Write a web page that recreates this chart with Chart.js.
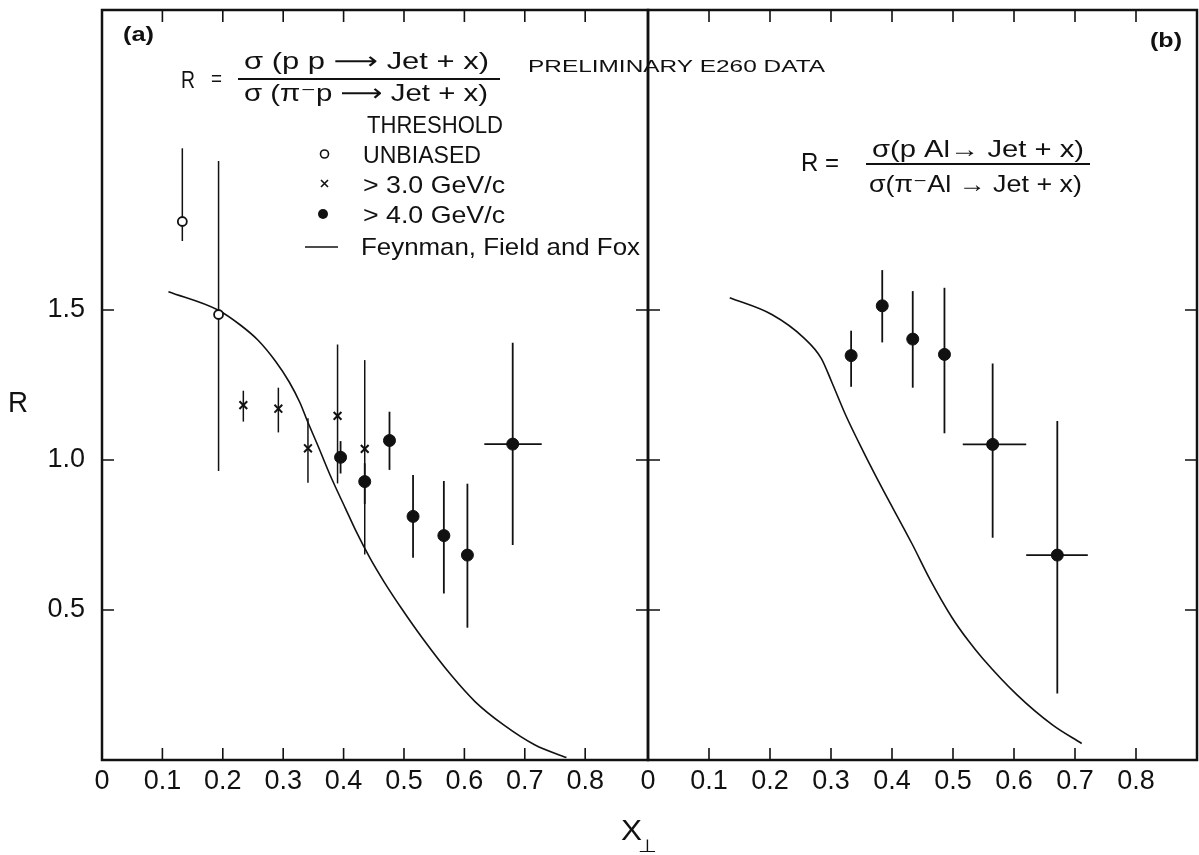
<!DOCTYPE html>
<html>
<head>
<meta charset="utf-8">
<script src="https://cdn.jsdelivr.net/npm/chart.js@4.4.1/dist/chart.umd.min.js"></script>
<style>
  html, body { margin: 0; padding: 0; background: #fff; }
  #wrap { position: relative; width: 1199px; height: 855px; overflow: hidden; }
  canvas { position: absolute; top: 0; }
  #chartA { left: 0; }
  #chartB { left: 600px; }
</style>
</head>
<body>
<div id="wrap">
  <canvas id="chartA" width="1199" height="855"></canvas>
  <canvas id="chartB" width="599" height="855"></canvas>
</div>
<script>
// axis ticks (same on both panels)
const xTicks = [0, 0.1, 0.2, 0.3, 0.4, 0.5, 0.6, 0.7, 0.8];
const xTickLabels = ['0', '0.1', '0.2', '0.3', '0.4', '0.5', '0.6', '0.7', '0.8'];
const yTicks = [0.5, 1.0, 1.5];
const yTickLabels = ['0.5', '1.0', '1.5'];

// (a) R = sigma(pp -> Jet+x) / sigma(pi- p -> Jet+x)
const unbiasedX  = [0.133, 0.193];
const unbiasedR  = [1.795, 1.485];
const unbiasedLo = [1.730, 0.963];
const unbiasedHi = [2.039, 1.997];

const gev3X  = [0.234, 0.292, 0.341, 0.390, 0.435];
const gev3R  = [1.183, 1.171, 1.039, 1.147, 1.037];
const gev3Lo = [1.128, 1.092, 0.924, 0.922, 0.685];
const gev3Hi = [1.231, 1.241, 1.139, 1.385, 1.333];

const gev4X   = [0.395, 0.435, 0.476, 0.515, 0.566, 0.605, 0.680];
const gev4R   = [1.009, 0.928, 1.065, 0.812, 0.748, 0.683, 1.053];
const gev4Lo  = [0.955, 0.853, 0.967, 0.674, 0.555, 0.441, 0.717];
const gev4Hi  = [1.063, 0.989, 1.161, 0.950, 0.930, 0.921, 1.391];
const gev4XLo = [null, null, null, null, null, null, 0.633];
const gev4XHi = [null, null, null, null, null, null, 0.728];

// Feynman, Field and Fox curve, panel (a)
const fffAX = [0.110, 0.192, 0.229, 0.258, 0.287, 0.310, 0.328, 0.339, 0.357, 0.380, 0.403, 0.421, 0.444, 0.467, 0.496, 0.531, 0.578, 0.618, 0.665, 0.717, 0.769];
const fffAR = [1.561, 1.500, 1.450, 1.400, 1.330, 1.260, 1.190, 1.135, 1.050, 0.939, 0.839, 0.761, 0.672, 0.594, 0.505, 0.405, 0.283, 0.194, 0.117, 0.050, 0.008];

// (b) R = sigma(pAl -> Jet+x) / sigma(pi- Al -> Jet+x)
const alX   = [0.333, 0.384, 0.434, 0.486, 0.565, 0.671];
const alR   = [1.348, 1.514, 1.403, 1.352, 1.052, 0.683];
const alLo  = [1.244, 1.392, 1.241, 1.089, 0.741, 0.222];
const alHi  = [1.431, 1.633, 1.563, 1.574, 1.322, 1.130];
const alXLo = [null, null, null, null, 0.516, 0.620];
const alXHi = [null, null, null, null, 0.620, 0.721];

// Feynman, Field and Fox curve, panel (b)
const fffBX = [0.134, 0.203, 0.255, 0.284, 0.301, 0.324, 0.353, 0.381, 0.433, 0.462, 0.498, 0.525, 0.548, 0.605, 0.663, 0.711];
const fffBR = [1.541, 1.485, 1.408, 1.339, 1.261, 1.150, 1.028, 0.917, 0.720, 0.603, 0.476, 0.398, 0.340, 0.217, 0.117, 0.055];

const INK = '#111';
const FONT = '"Liberation Sans", "DejaVu Sans", Arial, sans-serif';

function pts(xs, ys) { return xs.map((x, i) => ({ x: x, y: ys[i] })); }

// text squeezed / stretched to a given width, baseline at y
function fitText(ctx, str, x, y, size, width, bold) {
  ctx.save();
  ctx.font = (bold ? 'bold ' : '') + size + 'px ' + FONT;
  ctx.textBaseline = 'alphabetic';
  ctx.textAlign = 'left';
  const w = ctx.measureText(str).width;
  ctx.translate(x, y);
  ctx.scale(width / w, 1);
  ctx.fillStyle = INK;
  ctx.fillText(str, 0, 0);
  ctx.restore();
}

// error bars, drawn under the markers
const errorBars = {
  id: 'errorBars',
  beforeDatasetsDraw(chart) {
    const ctx = chart.ctx, xs = chart.scales.x, ys = chart.scales.y;
    ctx.save();
    ctx.strokeStyle = INK;
    chart.data.datasets.forEach(ds => {
      if (!ds.yLo) return;
      ctx.lineWidth = ds.barWidth || 1.5;
      ds.data.forEach((p, i) => {
        const px = xs.getPixelForValue(p.x);
        const py = ys.getPixelForValue(p.y);
        ctx.beginPath();
        ctx.moveTo(px, ys.getPixelForValue(ds.yLo[i]));
        ctx.lineTo(px, ys.getPixelForValue(ds.yHi[i]));
        if (ds.xLo && ds.xLo[i] != null) {
          ctx.moveTo(xs.getPixelForValue(ds.xLo[i]), py);
          ctx.lineTo(xs.getPixelForValue(ds.xHi[i]), py);
        }
        ctx.stroke();
      });
    });
    ctx.restore();
  }
};

// box frame with inward ticks on all four sides
const frame = {
  id: 'frame',
  afterDraw(chart) {
    const ctx = chart.ctx, a = chart.chartArea, xs = chart.scales.x, ys = chart.scales.y;
    const tl = 12;
    ctx.save();
    ctx.strokeStyle = INK;
    ctx.lineWidth = 1.6;
    ctx.beginPath();
    xTicks.slice(1).forEach(v => {
      const px = xs.getPixelForValue(v);
      ctx.moveTo(px, a.bottom); ctx.lineTo(px, a.bottom - tl);
      ctx.moveTo(px, a.top); ctx.lineTo(px, a.top + tl);
    });
    yTicks.forEach(v => {
      const py = ys.getPixelForValue(v);
      ctx.moveTo(a.left, py); ctx.lineTo(a.left + tl, py);
      ctx.moveTo(a.right, py); ctx.lineTo(a.right - tl, py);
    });
    ctx.stroke();
    ctx.lineWidth = 2.5;
    ctx.strokeRect(a.left, a.top, a.right - a.left, a.bottom - a.top);
    ctx.restore();
  }
};

// titles, formulas and the hand-drawn style legend
const annotations = {
  id: 'annotations',
  afterDraw(chart) {
    const ctx = chart.ctx;
    if (chart.canvas.id === 'chartA') {
      fitText(ctx, '(a)', 123, 41, 20, 31, true);
      fitText(ctx, 'R', 181, 88, 24, 14);
      fitText(ctx, '=', 211, 86, 22, 11);
      fitText(ctx, 'σ (p p ⟶ Jet + x)', 244, 69, 24, 245);
      fitText(ctx, 'σ (π⁻p ⟶ Jet + x)', 244, 101, 24, 244);
      ctx.save();
      ctx.strokeStyle = INK; ctx.lineWidth = 2;
      ctx.beginPath(); ctx.moveTo(238, 79); ctx.lineTo(500, 79); ctx.stroke();
      ctx.restore();
      fitText(ctx, 'PRELIMINARY E260 DATA', 528, 72, 17, 297);

      fitText(ctx, 'THRESHOLD', 367, 133, 24, 136);
      fitText(ctx, 'UNBIASED', 363, 163, 24, 118);
      fitText(ctx, '> 3.0 GeV/c', 363, 193, 24, 142);
      fitText(ctx, '> 4.0 GeV/c', 363, 223, 24, 142);
      fitText(ctx, 'Feynman, Field and Fox', 361, 255, 24, 279);

      ctx.save();
      ctx.strokeStyle = INK; ctx.fillStyle = INK; ctx.lineWidth = 1.6;
      ctx.beginPath(); ctx.arc(324.5, 154, 4, 0, Math.PI * 2); ctx.stroke();
      ctx.beginPath();
      ctx.moveTo(321, 180); ctx.lineTo(328, 187);
      ctx.moveTo(328, 180); ctx.lineTo(321, 187);
      ctx.stroke();
      ctx.beginPath(); ctx.arc(323, 214, 5, 0, Math.PI * 2); ctx.fill();
      ctx.beginPath(); ctx.moveTo(305, 247); ctx.lineTo(338, 247); ctx.stroke();
      ctx.restore();

      // axis titles
      fitText(ctx, 'R', 8, 412, 30, 20);
      fitText(ctx, 'X', 621, 840, 29, 21);
      fitText(ctx, '⊥', 638, 852, 18, 19);
    } else {
      const ox = 600;
      fitText(ctx, '(b)', 1150 - ox, 47, 20, 32, true);
      fitText(ctx, 'R =', 801 - ox, 171, 25, 38);
      fitText(ctx, 'σ(p Al→ Jet + x)', 872 - ox, 157, 24, 212);
      fitText(ctx, 'σ(π⁻Al → Jet + x)', 869 - ox, 192, 24, 213);
      ctx.save();
      ctx.strokeStyle = INK; ctx.lineWidth = 2;
      ctx.beginPath(); ctx.moveTo(866 - ox, 164); ctx.lineTo(1090 - ox, 164); ctx.stroke();
      ctx.restore();
    }
  }
};

function xAxis() {
  return {
    type: 'linear', min: 0, max: 0.904,
    grid: { display: false }, border: { display: false },
    afterBuildTicks: s => { s.ticks = xTicks.map(v => ({ value: v })); },
    afterFit: s => { s.height = 95; s.paddingLeft = 0; s.paddingRight = 0; },
    ticks: {
      color: INK, padding: -3, maxRotation: 0, autoSkip: false,
      font: { family: FONT, size: 27 },
      callback: (v, i) => xTickLabels[i]
    }
  };
}

function curve(xs, ys) {
  return {
    data: pts(xs, ys), showLine: true, borderColor: INK, borderWidth: 1.6,
    pointRadius: 0, cubicInterpolationMode: 'monotone', order: 5
  };
}

const common = {
  responsive: false,
  animation: false,
  plugins: { legend: { display: false }, tooltip: { enabled: false } }
};

new Chart(document.getElementById('chartA'), {
  type: 'scatter',
  data: {
    datasets: [
      curve(fffAX, fffAR),
      { data: pts(gev4X, gev4R), yLo: gev4Lo, yHi: gev4Hi, xLo: gev4XLo, xHi: gev4XHi, barWidth: 1.8,
        pointStyle: 'circle', pointRadius: 6, backgroundColor: INK, borderColor: INK, borderWidth: 1 },
      { data: pts(gev3X, gev3R), yLo: gev3Lo, yHi: gev3Hi, barWidth: 1.5,
        pointStyle: 'crossRot', pointRadius: 5.5, borderColor: INK, borderWidth: 2 },
      { data: pts(unbiasedX, unbiasedR), yLo: unbiasedLo, yHi: unbiasedHi, barWidth: 1.5,
        pointStyle: 'circle', pointRadius: 4.5, backgroundColor: '#fff', borderColor: INK, borderWidth: 1.8 }
    ]
  },
  options: Object.assign({}, common, {
    layout: { autoPadding: false, padding: { left: 0, right: 551, top: 10, bottom: 0 } },
    scales: {
      x: xAxis(),
      y: {
        type: 'linear', min: 0, max: 2.5,
        grid: { display: false }, border: { display: false },
        afterBuildTicks: s => { s.ticks = yTicks.map(v => ({ value: v })); },
        afterFit: s => { s.width = 102; s.paddingTop = 0; s.paddingBottom = 0; },
        ticks: {
          color: INK, padding: 9,
          font: { family: FONT, size: 27 },
          callback: (v, i) => yTickLabels[i]
        }
      }
    }
  }),
  plugins: [errorBars, frame, annotations]
});

new Chart(document.getElementById('chartB'), {
  type: 'scatter',
  data: {
    datasets: [
      curve(fffBX, fffBR),
      { data: pts(alX, alR), yLo: alLo, yHi: alHi, xLo: alXLo, xHi: alXHi, barWidth: 1.8,
        pointStyle: 'circle', pointRadius: 6, backgroundColor: INK, borderColor: INK, borderWidth: 1 }
    ]
  },
  options: Object.assign({}, common, {
    layout: { autoPadding: false, padding: { left: 48, right: 2, top: 10, bottom: 0 } },
    scales: {
      x: Object.assign(xAxis(), { max: 0.9 }),
      y: { type: 'linear', min: 0, max: 2.5, display: false }
    }
  }),
  plugins: [errorBars, frame, annotations]
});
</script>
</body>
</html>
